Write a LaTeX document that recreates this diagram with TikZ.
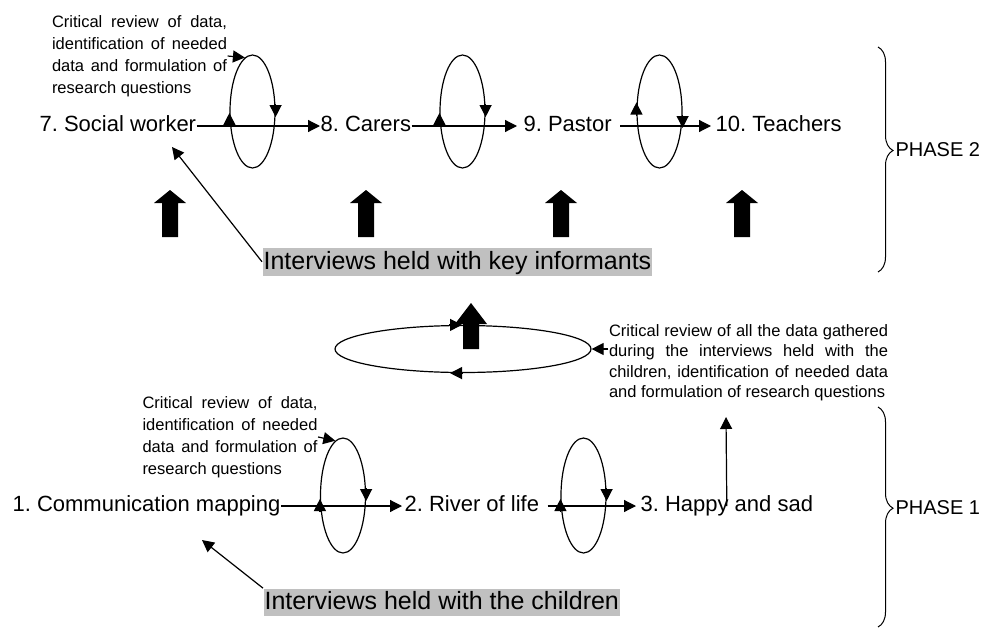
\documentclass[tikz,border=0pt]{standalone}
\usepackage{fontspec}
\setmainfont{Liberation Sans}
\usetikzlibrary{arrows.meta, shapes.geometric, decorations.pathreplacing}
\definecolor{boxgray}{RGB}{192,192,192}
\tolerance=9999
\hbadness=10000
\frenchspacing

\begin{document}
\begin{tikzpicture}[x = 1pt, y = -1pt, > = {Triangle[length = 12pt, width = 12pt]}, line width = 1.2pt,
	lbl/.style = {inner sep = 0pt, anchor = base west, text height = 10pt, text depth = 0pt, font = \fontsize{22}{26}\selectfont},
	note/.style = {inner sep = 0pt, align = justify, font = \fontsize{16.5}{22}\selectfont},
	gbox/.style = {fill = boxgray, anchor = west, inner xsep = 1pt, inner ysep = 1.5pt, text height = 19.5pt, text depth = 5pt, font = \fontsize{25}{30}\selectfont},
	cycl/.style = {draw, ellipse, inner sep = 0pt, minimum width = 45pt, minimum height = #1},
	phase/.style = {inner sep = 0pt, anchor = west, font = \fontsize{20}{24}\selectfont}]

	\useasboundingbox (0, 0) rectangle (982, 629);

	% Definitions

	\def\yb{131}		% Baselines of the two rows
	\def\ya{511}

	% Draw phase 2 row

	\node [lbl] (social) at (39, \yb) {7. Social worker};
	\node [lbl] (carers) at (320, \yb) {8. Carers};
	\node [lbl] (pastor) at (523, \yb) {9. Pastor};
	\node [lbl] (teachers) at (715, \yb) {10. Teachers};

	\node [cycl = 113pt] (loopA) at (252.5, 111.5) {};
	\node [cycl = 113pt] (loopB) at (462.5, 111.5) {};
	\node [cycl = 113pt] (loopC) at (659.5, 111.5) {};

	\draw [->] (social.east) -- (carers.west);
	\draw [->, shorten > = 6pt] (carers.east) -- (pastor.west);
	\draw [->, shorten < = 8pt, shorten > = 4pt] (pastor.east) -- (teachers.west);

	\node [note, text width = 175pt] (noteA) at (139.5, 56) {Critical review of data,\linebreak identification of needed\linebreak data and formulation of\linebreak research questions};
	\draw [->] (noteA.east) -- (loopA.98);

	% Draw phase 1 row

	\node [lbl] (mapping) at (12, \ya) {1. Communication mapping};
	\node [lbl] (river) at (404, \ya) {2. River of life};
	\node [lbl] (happy) at (640, \ya) {3. Happy and sad};

	\node [cycl = 115pt] (loopD) at (343, 495.5) {};
	\node [cycl = 115pt] (loopE) at (583.5, 495.5) {};

	\draw [->, shorten > = 2pt] (mapping.east) -- (river.west);
	\draw [->, shorten < = 8pt, shorten > = 4pt] (river.east) -- (happy.west);

	\node [note, text width = 175pt] (noteD) at (230, 437) {Critical review of data,\linebreak identification of needed\linebreak data and formulation of\linebreak research questions};
	\draw [->] (noteD.east) -- (loopD.98);

	% Arrowheads on the small loops

	\foreach \l/\a/\b in {loopA/14.5/-7.5, loopB/14.5/-7.5, loopC/4/3.5, loopD/16.5/-7.5, loopE/16.5/-7.5}
	{
		\draw [->] (\l.west) ++(0, \a) -- ++(0, -13);
		\draw [->] (\l.east) ++(0, \b) -- ++(0, 13);
	}

	% Draw review between the phases

	\node [cycl = 47pt, minimum width = 256pt] (loopM) at (463, 349) {};
	\draw [->] (loopM.north) ++(-14, 0) -- ++(13, 0);
	\draw [->] (loopM.south) -- ++(-13, 0);

	\node [note, text width = 279pt, font = \fontsize{16.5}{20.5}\selectfont] (noteR) at (748.5, 362.5) {Critical review of all the data gathered\linebreak during the interviews held with the\linebreak children, identification of needed data\linebreak and formulation of research questions};
	\draw [->] (noteR.west |- loopM.east) -- (loopM.east);

	\coordinate (up) at (726, 417);
	\draw [->] (happy.center) -- (up);

	% Draw block arrows

	\foreach \x in {170, 366, 561, 742}
		\fill (\x - 8, 237) -- (\x - 8, 203) -- (\x - 16, 203) -- (\x, 190) -- (\x + 16, 203) -- (\x + 8, 203) -- (\x + 8, 237) -- cycle;
	\fill (463, 349) -- (463, 324) -- (455, 324) -- (471, 303) -- (487, 324) -- (479, 324) -- (479, 349) -- cycle;

	% Draw interview boxes

	\node [gbox] (informants) at (262, 261.75) {Interviews held with key informants};
	\node [gbox] (children) at (263, 602.5) {Interviews held with the children};

	\coordinate (socialtip) at (172, 147);
	\coordinate (mappingtip) at (202, 540);
	\draw [->] (informants.west) -- (socialtip);
	\draw [->] (children.north west) -- (mappingtip);

	% Draw phase braces

	\draw [line width = 1pt, decorate, decoration = {brace, amplitude = 15pt, aspect = 0.46}] (878, 47) -- (878, 272);
	\draw [line width = 1pt, decorate, decoration = {brace, amplitude = 15pt, aspect = 0.46}] (878, 407) -- (878, 627);

	\node [phase] (phasetwo) at (895, 150) {PHASE 2};
	\node [phase] (phaseone) at (895, 508) {PHASE 1};

\end{tikzpicture}
\end{document}
